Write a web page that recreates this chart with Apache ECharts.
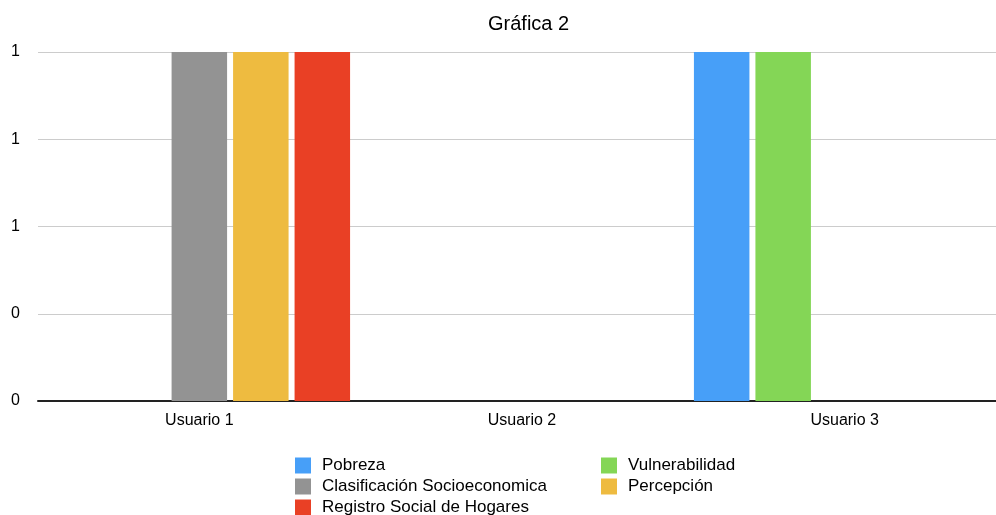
<!DOCTYPE html>
<html>
<head>
<meta charset="utf-8">
<script src="https://cdn.jsdelivr.net/npm/echarts@6/dist/echarts.min.js"></script>
<style>
html,body{margin:0;padding:0;background:#fff;overflow:hidden;}
#chart{width:1006px;height:515px;}
</style>
</head>
<body>
<div id="chart"></div>
<script>
const titleText = 'Gráfica 2';
const categories = ['Usuario 1', 'Usuario 2', 'Usuario 3'];
const seriesNames = ['Pobreza', 'Vulnerabilidad', 'Clasificación Socioeconomica', 'Percepción', 'Registro Social de Hogares'];
const pobreza = [0, 0, 1];
const vulnerabilidad = [0, 0, 1];
const clasificacion = [1, 0, 0];
const percepcion = [1, 0, 0];
const registro = [1, 0, 0];
const colors = ['#479ff8', '#84d656', '#939393', '#eebb40', '#e94025'];

const seriesData = [pobreza, vulnerabilidad, clasificacion, percepcion, registro];
const font = 'Liberation Sans, Arial, Helvetica, sans-serif';

const chart = echarts.init(document.getElementById('chart'), null, {renderer: 'canvas'});
chart.setOption({
  animation: false,
  backgroundColor: '#fff',
  title: {
    text: titleText, left: 483, top: 9,
    textStyle: {fontFamily: font, fontSize: 20, fontWeight: 'normal', color: '#000'}
  },
  legend: [
    {
      data: [seriesNames[0], seriesNames[2], seriesNames[4]],
      orient: 'vertical', left: 295, top: 457, height: 90,
      itemWidth: 16, itemHeight: 16, itemGap: 4, icon: 'rect',
      textStyle: {fontFamily: font, fontSize: 17, color: '#000', padding: [0, 0, 0, 6]},
      padding: 0
    },
    {
      data: [seriesNames[1], seriesNames[3]],
      orient: 'vertical', left: 601, top: 457, height: 90,
      itemWidth: 16, itemHeight: 16, itemGap: 4, icon: 'rect',
      textStyle: {fontFamily: font, fontSize: 17, color: '#000', padding: [0, 0, 0, 6]},
      padding: 0
    }
  ],
  grid: {left: 38, top: 52, right: 0, bottom: 114, containLabel: false},
  xAxis: {
    type: 'category', data: categories,
    axisLine: {lineStyle: {color: '#222', width: 2}},
    axisTick: {show: false},
    axisLabel: {fontFamily: font, fontSize: 16, color: '#000', margin: 12}
  },
  yAxis: {
    type: 'value', min: 0, max: 1, interval: 0.25,
    axisLine: {show: false}, axisTick: {show: false},
    splitLine: {lineStyle: {color: '#cccccc', width: 1}},
    axisLabel: {fontFamily: font, fontSize: 16, color: '#000', margin: 18,
      formatter: v => String(Math.round(v))}
  },
  series: seriesNames.map((n, i) => ({
    name: n, type: 'bar', data: seriesData[i],
    barWidth: 55.5, barGap: '10.8%',
    itemStyle: {color: colors[i]}
  }))
});
</script>
</body>
</html>
